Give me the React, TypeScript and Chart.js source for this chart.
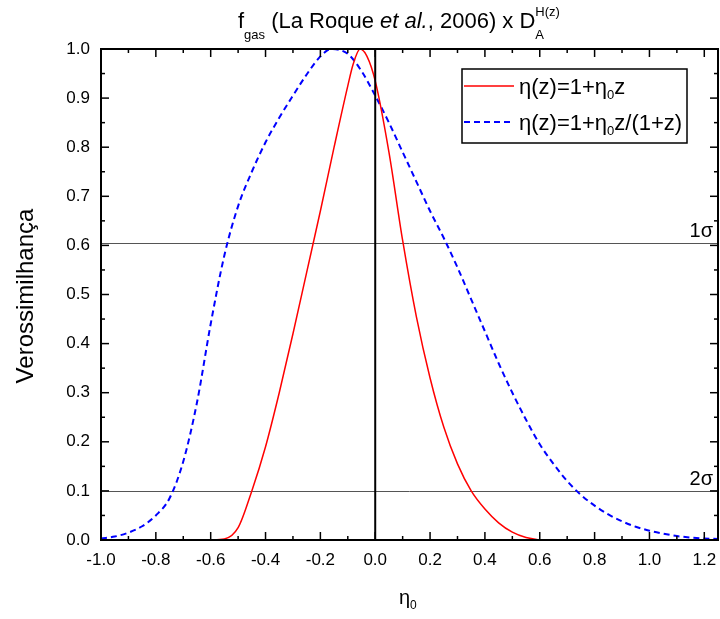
import React, { useEffect, useRef } from "react";
import { Chart, registerables } from "chart.js";

Chart.register(...registerables);

const etaRed = [-0.6, -0.55, -0.5, -0.45, -0.4, -0.35, -0.3, -0.25, -0.2, -0.15, -0.1, -0.08, -0.055, -0.03, 0.0, 0.05, 0.1, 0.15, 0.2, 0.25, 0.3, 0.35, 0.4, 0.45, 0.5, 0.55, 0.6];
const likeRed = [0.0, 0.002, 0.025, 0.1, 0.19, 0.3, 0.42, 0.545, 0.67, 0.8, 0.925, 0.97, 1.0, 0.985, 0.935, 0.79, 0.61, 0.455, 0.33, 0.23, 0.155, 0.1, 0.063, 0.035, 0.016, 0.005, 0.0];

const etaBlue = [-1.0, -0.95, -0.9, -0.85, -0.8, -0.75, -0.7, -0.65, -0.6, -0.55, -0.5, -0.45, -0.4, -0.35, -0.3, -0.25, -0.2, -0.16, -0.1, -0.05, 0.0, 0.05, 0.1, 0.15, 0.2, 0.25, 0.3, 0.35, 0.4, 0.45, 0.5, 0.55, 0.6, 0.65, 0.7, 0.75, 0.8, 0.85, 0.9, 0.95, 1.0, 1.05, 1.1, 1.15, 1.2, 1.25];
const likeBlue = [0.003, 0.007, 0.015, 0.028, 0.05, 0.085, 0.16, 0.28, 0.44, 0.58, 0.68, 0.75, 0.81, 0.86, 0.905, 0.948, 0.985, 1.0, 0.99, 0.955, 0.905, 0.85, 0.79, 0.73, 0.67, 0.615, 0.555, 0.49, 0.425, 0.36, 0.3, 0.245, 0.195, 0.155, 0.12, 0.092, 0.07, 0.052, 0.038, 0.027, 0.019, 0.013, 0.008, 0.005, 0.003, 0.002];

const xMajorTicks = [-1.0, -0.8, -0.6, -0.4, -0.2, 0.0, 0.2, 0.4, 0.6, 0.8, 1.0, 1.2];
const xMinorTicks = [-0.9, -0.7, -0.5, -0.3, -0.1, 0.1, 0.3, 0.5, 0.7, 0.9, 1.1];
const yMajorTicks = [0.0, 0.1, 0.2, 0.3, 0.4, 0.5, 0.6, 0.7, 0.8, 0.9, 1.0];
const yMinorTicks = [0.05, 0.15, 0.25, 0.35, 0.45, 0.55, 0.65, 0.75, 0.85, 0.95];
const sigmaLevels = [0.6045, 0.1];
const sigmaLabels = ["1σ", "2σ"];
const legendLabels = ["η(z)=1+η0z", "η(z)=1+η0z/(1+z)"];

const FONT = '"Liberation Sans", Arial, sans-serif';

type Part = { t: string; size: number; dy?: number; italic?: boolean; noAdvance?: boolean };

function drawParts(ctx: CanvasRenderingContext2D, parts: Part[], x: number, y: number) {
  let cx = x;
  for (const p of parts) {
    ctx.font = `${p.italic ? "italic " : ""}${p.size}px ${FONT}`;
    ctx.fillText(p.t, cx, y + (p.dy || 0));
    if (!p.noAdvance) cx += ctx.measureText(p.t).width;
  }
  return cx;
}

function etaParts(label: string, size: number): Part[] {
  const out: Part[] = [];
  const segs = label.split("η0");
  segs.forEach((s, i) => {
    if (s) out.push({ t: s, size });
    if (i < segs.length - 1) {
      out.push({ t: "η", size });
      out.push({ t: "0", size: Math.round(size * 0.6), dy: 5 });
    }
  });
  return out;
}

const decoPlugin = {
  id: "deco",
  beforeDatasetsDraw(chart: any) {
    const ctx = chart.ctx as CanvasRenderingContext2D;
    const { left, right } = chart.chartArea;
    const ys = chart.scales.y;
    ctx.save();
    ctx.strokeStyle = "#555555";
    ctx.lineWidth = 1;
    sigmaLevels.forEach((lv, i) => {
      const py = Math.round(ys.getPixelForValue(lv)) + 0.5;
      ctx.beginPath();
      ctx.moveTo(left, py);
      ctx.lineTo(right, py);
      ctx.stroke();
      ctx.fillStyle = "#000";
      ctx.font = `20px ${FONT}`;
      ctx.textAlign = "right";
      ctx.textBaseline = "alphabetic";
      ctx.fillText(sigmaLabels[i], right - 5, py - 7);
    });
    ctx.restore();
  },
  afterDraw(chart: any) {
    const ctx = chart.ctx as CanvasRenderingContext2D;
    const { left, right, top, bottom } = chart.chartArea;
    const xs = chart.scales.x;
    const ys = chart.scales.y;
    ctx.save();
    ctx.strokeStyle = "#000";
    ctx.lineWidth = 2;
    const x0 = xs.getPixelForValue(0);
    ctx.beginPath();
    ctx.moveTo(x0, top);
    ctx.lineTo(x0, bottom);
    ctx.stroke();

    ctx.lineWidth = 2;
    ctx.strokeRect(left, top, right - left, bottom - top);

    ctx.lineWidth = 1.5;
    const tick = (x1: number, y1: number, x2: number, y2: number) => {
      ctx.beginPath();
      ctx.moveTo(x1, y1);
      ctx.lineTo(x2, y2);
      ctx.stroke();
    };
    xMajorTicks.forEach((v) => {
      const px = xs.getPixelForValue(v);
      tick(px, bottom, px, bottom - 8);
      tick(px, top, px, top + 8);
    });
    xMinorTicks.forEach((v) => {
      const px = xs.getPixelForValue(v);
      tick(px, bottom, px, bottom - 4);
      tick(px, top, px, top + 4);
    });
    yMajorTicks.forEach((v) => {
      const py = ys.getPixelForValue(v);
      tick(left, py, left + 8, py);
      tick(right, py, right - 8, py);
    });
    yMinorTicks.forEach((v) => {
      const py = ys.getPixelForValue(v);
      tick(left, py, left + 4, py);
      tick(right, py, right - 4, py);
    });

    ctx.fillStyle = "#000";
    ctx.font = `17px ${FONT}`;
    ctx.textAlign = "center";
    ctx.textBaseline = "alphabetic";
    xMajorTicks.forEach((v) => {
      ctx.fillText(v.toFixed(1), xs.getPixelForValue(v), bottom + 25);
    });
    ctx.textAlign = "right";
    ctx.textBaseline = "middle";
    yMajorTicks.forEach((v) => {
      ctx.fillText(v.toFixed(1), left - 11, ys.getPixelForValue(v));
    });

    ctx.textAlign = "left";
    ctx.textBaseline = "alphabetic";
    drawParts(ctx, [{ t: "η", size: 20 }, { t: "0", size: 12, dy: 5 }], 399, 604);

    ctx.save();
    ctx.translate(33, 296);
    ctx.rotate(-Math.PI / 2);
    ctx.font = `24px ${FONT}`;
    ctx.textAlign = "center";
    ctx.fillText("Verossimilhança", 0, 0);
    ctx.restore();

    ctx.textAlign = "left";
    const cx = drawParts(ctx, [{ t: "f", size: 22 }, { t: "gas", size: 13, dy: 11 }, { t: " (La Roque ", size: 22 }, { t: "et al.", size: 22, italic: true }, { t: ", 2006) x D", size: 22 }], 238, 28);
    drawParts(ctx, [{ t: "A", size: 13, dy: 11, noAdvance: true }, { t: "H(z)", size: 13, dy: -12 }], cx, 28);

    const lx = 462, ly = 69, lw = 225, lh = 74;
    ctx.fillStyle = "#fff";
    ctx.fillRect(lx, ly, lw, lh);
    ctx.strokeStyle = "#000";
    ctx.lineWidth = 1.5;
    ctx.strokeRect(lx, ly, lw, lh);
    const rows = [
      { y: 86, color: "#ff0000", dash: [] as number[] },
      { y: 122, color: "#0000ff", dash: [6, 4] },
    ];
    rows.forEach((r, i) => {
      ctx.strokeStyle = r.color;
      ctx.lineWidth = i === 0 ? 1.5 : 2;
      ctx.setLineDash(r.dash);
      ctx.beginPath();
      ctx.moveTo(lx + 2, r.y);
      ctx.lineTo(lx + 52, r.y);
      ctx.stroke();
      ctx.setLineDash([]);
      ctx.fillStyle = "#000";
      drawParts(ctx, etaParts(legendLabels[i], 22), 519, r.y + 8);
    });
    ctx.restore();
  },
};

export default function App() {
  const ref = useRef<HTMLCanvasElement | null>(null);
  useEffect(() => {
    document.body.style.margin = "0";
    const canvas = ref.current!;
    const chart = new Chart(canvas, {
      type: "line",
      data: {
        datasets: [
          {
            label: legendLabels[0],
            data: etaRed.map((x, i) => ({ x, y: likeRed[i] })),
            borderColor: "#ff0000",
            borderWidth: 1.5,
            pointRadius: 0,
            cubicInterpolationMode: "monotone",
            fill: false,
          },
          {
            label: legendLabels[1],
            data: etaBlue.map((x, i) => ({ x, y: likeBlue[i] })),
            borderColor: "#0000ff",
            borderWidth: 2,
            borderDash: [6, 4],
            pointRadius: 0,
            cubicInterpolationMode: "monotone",
            fill: false,
          },
        ],
      },
      options: {
        responsive: false,
        animation: false,
        events: [],
        layout: { padding: { left: 101, right: 2, top: 49, bottom: 79 } },
        plugins: { legend: { display: false }, tooltip: { enabled: false }, title: { display: false } },
        scales: {
          x: { type: "linear", min: -1.0, max: 1.25, display: false },
          y: { type: "linear", min: 0, max: 1.0, display: false },
        },
      },
      plugins: [decoPlugin],
    } as any);
    return () => chart.destroy();
  }, []);
  return <canvas ref={ref} width={720} height={619} style={{ display: "block" }} />;
}
